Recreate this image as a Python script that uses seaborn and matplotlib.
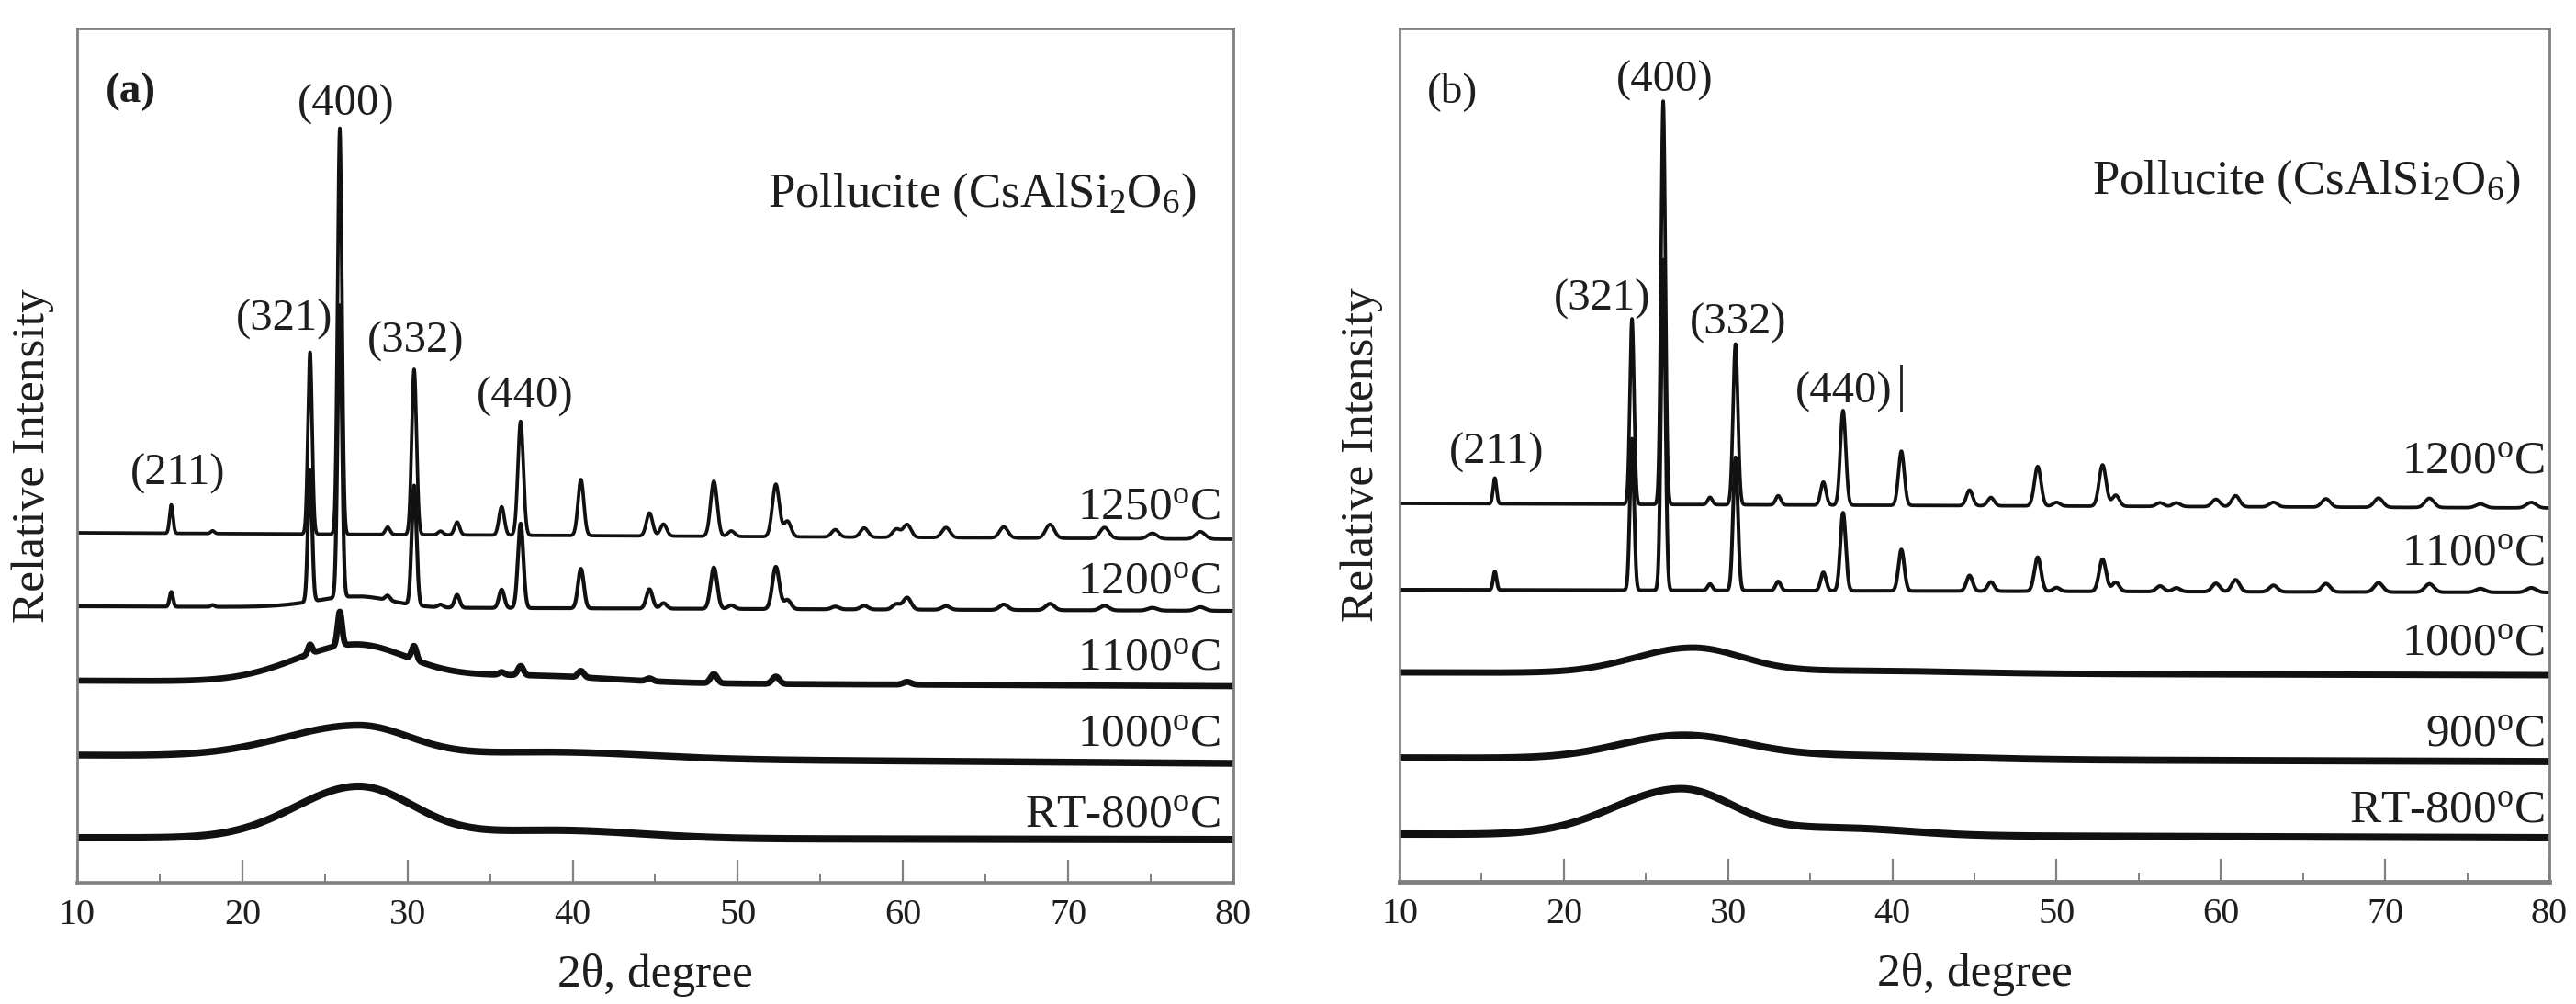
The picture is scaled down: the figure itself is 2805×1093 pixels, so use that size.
import numpy as np
import pandas as pd
import matplotlib
matplotlib.use("Agg")
import matplotlib.pyplot as plt
from matplotlib.ticker import MultipleLocator
import seaborn as sns

# ---------------- data ----------------
x_ticks = [10, 20, 30, 40, 50, 60, 70, 80]

# panel (a)
a_samples = ["1250", "1200", "1100", "1000", "RT-800"]
a_peak_pos = [15.7, 18.2, 24.1, 25.9, 28.8, 30.4, 32.0, 33.0, 35.7, 36.85, 40.5,
              44.65, 45.5, 48.55, 49.6, 52.3, 53.0, 55.9, 57.65, 59.6, 60.25,
              62.6, 66.1, 68.9, 72.2, 75.1, 78.0]
a_peak_1250 = [31, 3, 198, 442, 8, 180, 4, 14, 31, 124, 61,
               25, 13, 60, 6, 57, 17, 8, 10, 9, 14,
               11, 12, 15, 12, 6, 8]
a_peak_1200 = [16, 2, 143, 318, 5, 130, 3, 14, 20, 92, 43,
               21, 6, 45, 4, 46, 10, 3, 4, 6, 13,
               4, 6, 7, 5, 3, 4]
a_peak_1100 = [0, 0, 10, 37, 0, 15, 0, 0, 3, 10, 7,
               3, 0, 10, 0, 8, 0, 0, 0, 0, 3,
               0, 0, 0, 0, 0, 0]
# amorphous humps: (centre, height, sigma left, sigma right)
a_hump_1200 = [(27.0, 12, 2.5, 2.0)]
a_hump_1100 = [(26.8, 40, 3.6, 3.2), (37.0, 8, 5.0, 5.0)]
a_hump_1000 = [(27.0, 34, 4.5, 3.1), (39.0, 7, 5.5, 5.5)]
a_hump_rt800 = [(27.0, 56, 3.8, 3.3), (39.0, 9, 5.0, 5.0)]
a_bg_start = [381, 301, 220, 139, 49]
a_bg_end = [374, 296, 214, 130, 47]

# panel (b)
b_samples = ["1200", "1100", "1000", "900", "RT-800"]
b_peak_pos = [15.8, 24.15, 26.05, 28.9, 30.45, 33.05, 35.8, 37.0, 40.55, 44.7,
              46.0, 48.85, 50.0, 52.8, 53.6, 56.3, 57.3, 59.7, 60.9, 63.2,
              66.4, 69.6, 72.7, 75.8, 78.9]
b_peak_1200 = [28, 202, 439, 8, 175, 10, 25, 103, 59, 17,
               9, 43, 4, 45, 12, 4, 4, 8, 12, 5,
               9, 10, 10, 4, 6]
b_peak_1100 = [20, 165, 360, 7, 145, 10, 20, 85, 45, 17,
               10, 37, 4, 35, 10, 6, 4, 9, 13, 7,
               9, 10, 9, 4, 5]
b_hump_1000 = [(27.8, 27, 3.5, 3.0), (38.0, 3, 6.0, 6.0)]
b_hump_900 = [(27.2, 25, 3.8, 3.8), (38.0, 4, 6.0, 6.0)]
b_hump_rt800 = [(27.1, 50, 4.0, 3.2), (37.0, 8, 4.0, 4.0)]
b_bg_start = [412, 318, 228, 135, 52]
b_bg_end = [407, 315, 225, 131, 48]

a_temp_labels = ["1250", "1200", "1100", "1000", "RT-800"]
b_temp_labels = ["1200", "1100", "1000", "900", "RT-800"]
hkl_labels = ["(211)", "(321)", "(400)", "(332)", "(440)"]

# ---------------- build traces ----------------
grid = np.linspace(10, 80, 14001)


def profile(bg0, bg1, pos, heights, humps):
    y = bg0 + (bg1 - bg0) * (grid - 10) / 70.0
    for c, h, sl, sr in humps:
        s = np.where(grid < c, sl, sr)
        y = y + h * np.exp(-0.5 * ((grid - c) / s) ** 2)
    for p, h in zip(pos, heights):
        if h > 0:
            sig = (0.2 + 0.007 * (p - 10)) / 2.355
            y = y + h * np.exp(-0.5 * ((grid - p) / sig) ** 2)
    return y


zeros_a = [0] * len(a_peak_pos)
zeros_b = [0] * len(b_peak_pos)
a_traces = {
    "1250": profile(a_bg_start[0], a_bg_end[0], a_peak_pos, a_peak_1250, []),
    "1200": profile(a_bg_start[1], a_bg_end[1], a_peak_pos, a_peak_1200, a_hump_1200),
    "1100": profile(a_bg_start[2], a_bg_end[2], a_peak_pos, a_peak_1100, a_hump_1100),
    "1000": profile(a_bg_start[3], a_bg_end[3], a_peak_pos, zeros_a, a_hump_1000),
    "RT-800": profile(a_bg_start[4], a_bg_end[4], a_peak_pos, zeros_a, a_hump_rt800),
}
b_traces = {
    "1200": profile(b_bg_start[0], b_bg_end[0], b_peak_pos, b_peak_1200, []),
    "1100": profile(b_bg_start[1], b_bg_end[1], b_peak_pos, b_peak_1100, []),
    "1000": profile(b_bg_start[2], b_bg_end[2], b_peak_pos, zeros_b, b_hump_1000),
    "900": profile(b_bg_start[3], b_bg_end[3], b_peak_pos, zeros_b, b_hump_900),
    "RT-800": profile(b_bg_start[4], b_bg_end[4], b_peak_pos, zeros_b, b_hump_rt800),
}

# ---------------- style ----------------
sns.set_theme(style="white")
plt.rcParams["font.family"] = ["Liberation Serif", "DejaVu Serif"]
plt.rcParams["mathtext.fontset"] = "custom"
plt.rcParams["mathtext.rm"] = "Liberation Serif"
plt.rcParams["mathtext.it"] = "Liberation Serif:italic"
plt.rcParams["mathtext.bf"] = "Liberation Serif:bold"

TXT = "#1e1e1e"
SPINE = "#808080"

fig = plt.figure(figsize=(28.05, 10.93), dpi=100)
ax_a = fig.add_axes([84 / 2805, 1 - 961 / 1093, 1259 / 2805, 930 / 1093])
ax_b = fig.add_axes([1524 / 2805, 1 - 960 / 1093, 1252 / 2805, 929 / 1093])

lw_a = {"1250": 2.7, "1200": 3.0, "1100": 4.8, "1000": 5.4, "RT-800": 5.8}
lw_b = {"1200": 2.7, "1100": 2.9, "1000": 5.0, "900": 5.6, "RT-800": 5.8}

for ax, traces, lws in ((ax_a, a_traces, lw_a), (ax_b, b_traces, lw_b)):
    for name, y in traces.items():
        df = pd.DataFrame({"two_theta": grid, "intensity": y})
        sns.lineplot(data=df, x="two_theta", y="intensity", ax=ax, color="#111111",
                     lw=lws[name], estimator=None, sort=False, legend=False)

for ax, ymax in ((ax_a, 930), (ax_b, 929)):
    ax.set_xlim(10, 80)
    ax.set_ylim(0, ymax)
    ax.set_xticks(x_ticks)
    ax.set_xticklabels([str(t) for t in x_ticks])
    ax.xaxis.set_minor_locator(MultipleLocator(5))
    ax.tick_params(axis="x", which="major", direction="in", length=18, width=1.6,
                   color=SPINE, labelsize=29, labelcolor=TXT, pad=12, bottom=True, top=False)
    ax.tick_params(axis="x", which="minor", direction="in", length=7.5, width=1.4,
                   color=SPINE, bottom=True, top=False)
    ax.tick_params(axis="y", left=False, right=False, labelleft=False)
    for s in ax.spines.values():
        s.set_visible(True)
        s.set_color(SPINE)
        s.set_linewidth(2.0)
    ax.set_xlabel("2θ, degree", fontsize=37, color=TXT)
    ax.xaxis.set_label_coords(0.5, -0.083)
    ax.set_ylabel("Relative Intensity", fontsize=37, color=TXT)
ax_a.yaxis.set_label_coords(-0.02, 0.5)
ax_b.yaxis.set_label_coords(-0.014, 0.5)
ax_b.spines["bottom"].set_linewidth(3.5)
ax_a.spines["bottom"].set_linewidth(2.6)

# ---------------- annotations ----------------
ax_a.text(13.25, 861, "(a)", fontsize=34, fontweight="bold", color=TXT, ha="center", va="center")
ax_b.text(13.2, 860, "(b)", fontsize=34, color=TXT, ha="center", va="center")

a_hkl_xy = [(16.08, 445), (22.53, 613), (26.25, 847), (30.47, 589), (37.14, 529)]
b_hkl_xy = [(15.9, 467), (22.34, 634), (26.14, 872), (30.62, 608), (37.06, 533)]
for lab, (x, y) in zip(hkl_labels, a_hkl_xy):
    ax_a.text(x, y, lab, fontsize=35, color=TXT, ha="center", va="center")
for lab, (x, y) in zip(hkl_labels, b_hkl_xy):
    ax_b.text(x, y, lab, fontsize=35, color=TXT, ha="center", va="center")
ax_b.text(40.55, 537, "|", fontsize=40, color=TXT, ha="center", va="center")

formula = r"Pollucite (CsAlSi$_\mathrm{2}$O$_\mathrm{6}$)"
ax_a.text(77.75, 736, formula, fontsize=38, color=TXT, ha="right", va="baseline")
ax_b.text(78.24, 749, formula, fontsize=38, color=TXT, ha="right", va="baseline")

a_lab_y = [396, 315, 232, 149, 61]
b_lab_y = [445, 345, 247, 148, 65]
for lab, y in zip(a_temp_labels, a_lab_y):
    ax_a.text(79.2, y, lab + r"$^\mathrm{o}$C", fontsize=37, color=TXT, ha="right", va="baseline")
for lab, y in zip(b_temp_labels, b_lab_y):
    ax_b.text(79.7, y, lab + r"$^\mathrm{o}$C", fontsize=37, color=TXT, ha="right", va="baseline")

fig.savefig("out.png", dpi=100, facecolor="white")
